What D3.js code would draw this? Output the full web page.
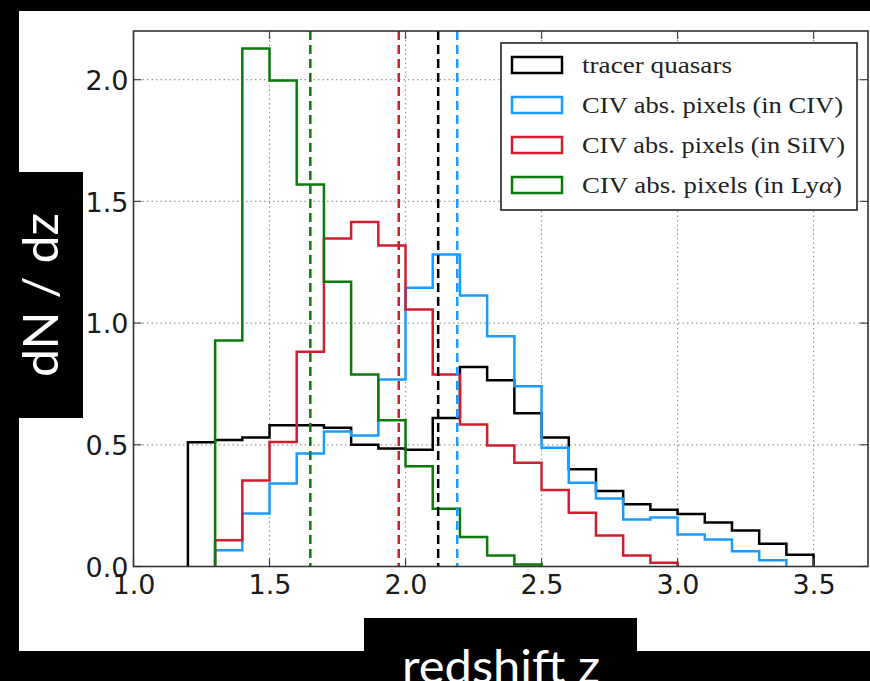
<!DOCTYPE html>
<html>
<head>
<meta charset="utf-8">
<script src="https://cdn.jsdelivr.net/npm/d3@7"></script>
<style>
  html, body { margin: 0; padding: 0; background: #000; }
  svg { display: block; }
</style>
</head>
<body>
<svg id="chart" width="870" height="681"></svg>
<script>
// ---------------- data ----------------
const binEdges = [1.2, 1.3, 1.4, 1.5, 1.6, 1.7, 1.8, 1.9, 2.0, 2.1, 2.2, 2.3, 2.4, 2.5, 2.6, 2.7, 2.8, 2.9, 3.0, 3.1, 3.2, 3.3, 3.4, 3.5];

const seriesNames = ["tracer quasars", "CIV abs. pixels (in CIV)", "CIV abs. pixels (in SiIV)", "CIV abs. pixels (in Ly\u03b1)"];
const seriesColors = ["#000000", "#1a9bff", "#cf1f2e", "#0a7a0a"];
const seriesStart = [1.2, 1.3, 1.3, 1.3];

const tracerVals = [0.51, 0.52, 0.53, 0.58, 0.58, 0.57, 0.50, 0.485, 0.48, 0.61, 0.82, 0.765, 0.63, 0.53, 0.40, 0.31, 0.256, 0.233, 0.216, 0.181, 0.148, 0.093, 0.048];
const civVals = [0.067, 0.218, 0.341, 0.464, 0.555, 0.538, 0.768, 1.145, 1.282, 1.113, 0.946, 0.741, 0.488, 0.344, 0.279, 0.193, 0.201, 0.131, 0.111, 0.063, 0.026];
const siivVals = [0.108, 0.353, 0.512, 0.882, 1.348, 1.415, 1.319, 1.056, 0.789, 0.583, 0.497, 0.426, 0.314, 0.221, 0.127, 0.045, 0.015];
const lyaVals = [0.928, 2.128, 1.997, 1.569, 1.17, 0.789, 0.601, 0.412, 0.237, 0.121, 0.045, 0.008];

const meanZ = [2.12, 2.19, 1.975, 1.65];

const xTicks = [1.0, 1.5, 2.0, 2.5, 3.0, 3.5];
const yTicks = [0.0, 0.5, 1.0, 1.5, 2.0];
const xLabel = "redshift z";
const yLabel = "dN / dz";

// ---------------- layout ----------------
const svg = d3.select("#chart");
const W = 870, H = 681;
const plot = { left: 133.5, right: 868, top: 31, bottom: 566.5 };

const x = d3.scaleLinear().domain([1.0, 3.7]).range([plot.left, plot.right]);
const y = d3.scaleLinear().domain([0, 2.2]).range([plot.bottom, plot.top]);

// background
svg.append("rect").attr("x", 0).attr("y", 0).attr("width", W).attr("height", H).attr("fill", "#000");
svg.append("rect").attr("x", 19).attr("y", 11).attr("width", W - 19).attr("height", 641).attr("fill", "#fff");

// grid
const grid = svg.append("g").attr("class", "grid");
grid.selectAll("line.gx").data(xTicks.filter(d => d > 1.0)).enter().append("line")
  .attr("x1", d => x(d)).attr("x2", d => x(d))
  .attr("y1", plot.top).attr("y2", plot.bottom)
  .attr("stroke", "#9a9a9a").attr("stroke-width", 1.2).attr("stroke-dasharray", "1.5,3");
grid.selectAll("line.gy").data(yTicks.filter(d => d > 0)).enter().append("line")
  .attr("y1", d => y(d)).attr("y2", d => y(d))
  .attr("x1", plot.left).attr("x2", plot.right)
  .attr("stroke", "#9a9a9a").attr("stroke-width", 1.2).attr("stroke-dasharray", "1.5,3");

// histograms
const allVals = [tracerVals, civVals, siivVals, lyaVals];
const line = d3.line().x(d => x(d[0])).y(d => y(d[1])).curve(d3.curveStepAfter);
svg.append("clipPath").attr("id", "plotclip").append("rect")
  .attr("x", plot.left).attr("y", plot.top).attr("width", plot.right - plot.left).attr("height", plot.bottom - plot.top + 2);

allVals.forEach((vals, si) => {
  const i0 = binEdges.findIndex(e => Math.abs(e - seriesStart[si]) < 1e-9);
  const pts = [[binEdges[i0], 0]];
  vals.forEach((v, k) => pts.push([binEdges[i0 + k], v]));
  const endEdge = binEdges[i0 + vals.length];
  pts.push([endEdge, vals[vals.length - 1]]);
  pts.push([endEdge, 0]);
  svg.append("path").attr("d", line(pts))
    .attr("fill", "none").attr("stroke", seriesColors[si]).attr("stroke-width", 2.5)
    .attr("stroke-linejoin", "miter").attr("clip-path", "url(#plotclip)");
});

// mean lines
svg.selectAll("line.mean").data(meanZ).enter().append("line")
  .attr("x1", d => x(d)).attr("x2", d => x(d))
  .attr("y1", plot.top).attr("y2", plot.bottom)
  .attr("stroke", (d, i) => seriesColors[i]).attr("stroke-width", 2.5)
  .attr("stroke-dasharray", "9,5");

// ticks (inward on all sides)
const tickLen = 8, tickColor = "#444";
xTicks.forEach(t => {
  svg.append("line").attr("x1", x(t)).attr("x2", x(t)).attr("y1", plot.bottom).attr("y2", plot.bottom - tickLen).attr("stroke", tickColor).attr("stroke-width", 1.2);
  svg.append("line").attr("x1", x(t)).attr("x2", x(t)).attr("y1", plot.top).attr("y2", plot.top + tickLen).attr("stroke", tickColor).attr("stroke-width", 1.2);
});
yTicks.forEach(t => {
  svg.append("line").attr("y1", y(t)).attr("y2", y(t)).attr("x1", plot.left).attr("x2", plot.left + tickLen).attr("stroke", tickColor).attr("stroke-width", 1.2);
  svg.append("line").attr("y1", y(t)).attr("y2", y(t)).attr("x1", plot.right).attr("x2", plot.right - tickLen).attr("stroke", tickColor).attr("stroke-width", 1.2);
});

// frame
svg.append("rect").attr("x", plot.left).attr("y", plot.top)
  .attr("width", plot.right - plot.left).attr("height", plot.bottom - plot.top)
  .attr("fill", "none").attr("stroke", "#333").attr("stroke-width", 1.6);

// tick labels via d3 axes
const fmt = d3.format(".1f");
const xAxis = d3.axisBottom(x).tickValues(xTicks).tickFormat(fmt).tickSize(0).tickPadding(0);
const gx = svg.append("g").attr("transform", `translate(0,${plot.bottom})`).call(xAxis);
gx.select(".domain").remove();
gx.selectAll("text").attr("y", 27).attr("dy", null)
  .attr("font-family", "DejaVu Sans").attr("font-size", 27).attr("fill", "#1a1a1a");

const yAxis = d3.axisLeft(y).tickValues(yTicks).tickFormat(fmt).tickSize(0).tickPadding(0);
const gy = svg.append("g").attr("transform", `translate(${plot.left},0)`).call(yAxis);
gy.select(".domain").remove();
gy.selectAll("text").attr("x", -5).attr("dy", "0.36em")
  .attr("font-family", "DejaVu Sans").attr("font-size", 27).attr("fill", "#1a1a1a");

// legend
const lg = svg.append("g");
lg.append("rect").attr("x", 501).attr("y", 43).attr("width", 356).attr("height", 167)
  .attr("fill", "#fff").attr("stroke", "#222").attr("stroke-width", 1.6);
const legendWidths = [150, 261, 263, 260];
seriesNames.forEach((name, i) => {
  const cy = 65 + i * 40;
  lg.append("rect").attr("x", 512).attr("y", cy - 8).attr("width", 50).attr("height", 16)
    .attr("fill", "none").attr("stroke", seriesColors[i]).attr("stroke-width", 2.5);
  const t = lg.append("text").attr("x", 582).attr("y", cy + 8)
    .attr("font-family", "Liberation Serif, 'DejaVu Serif', serif").attr("font-size", 23)
    .attr("fill", "#222")
    .attr("textLength", legendWidths[i]).attr("lengthAdjust", "spacingAndGlyphs");
  if (name.endsWith("\u03b1)")) {
    t.append("tspan").text(name.slice(0, -2));
    t.append("tspan").attr("font-style", "italic").text("\u03b1");
    t.append("tspan").text(")");
  } else {
    t.text(name);
  }
});

// axis label boxes
svg.append("rect").attr("x", 0).attr("y", 172).attr("width", 83).attr("height", 246).attr("fill", "#000");
svg.append("text").attr("transform", "translate(58,295) rotate(-90)")
  .attr("text-anchor", "middle").attr("font-family", "Lato, 'Open Sans', sans-serif")
  .attr("font-size", 48).attr("fill", "#fff")
  .attr("textLength", 164).attr("lengthAdjust", "spacingAndGlyphs")
  .text(yLabel);

svg.append("rect").attr("x", 0).attr("y", 651).attr("width", W).attr("height", 30).attr("fill", "#000");
svg.append("rect").attr("x", 364).attr("y", 618).attr("width", 273).attr("height", 63).attr("fill", "#000");
svg.append("text").attr("x", 501).attr("y", 683)
  .attr("text-anchor", "middle").attr("font-family", "Lato, 'Open Sans', sans-serif")
  .attr("font-size", 46).attr("fill", "#fff")
  .attr("textLength", 198).attr("lengthAdjust", "spacingAndGlyphs")
  .text(xLabel);
</script>
</body>
</html>
